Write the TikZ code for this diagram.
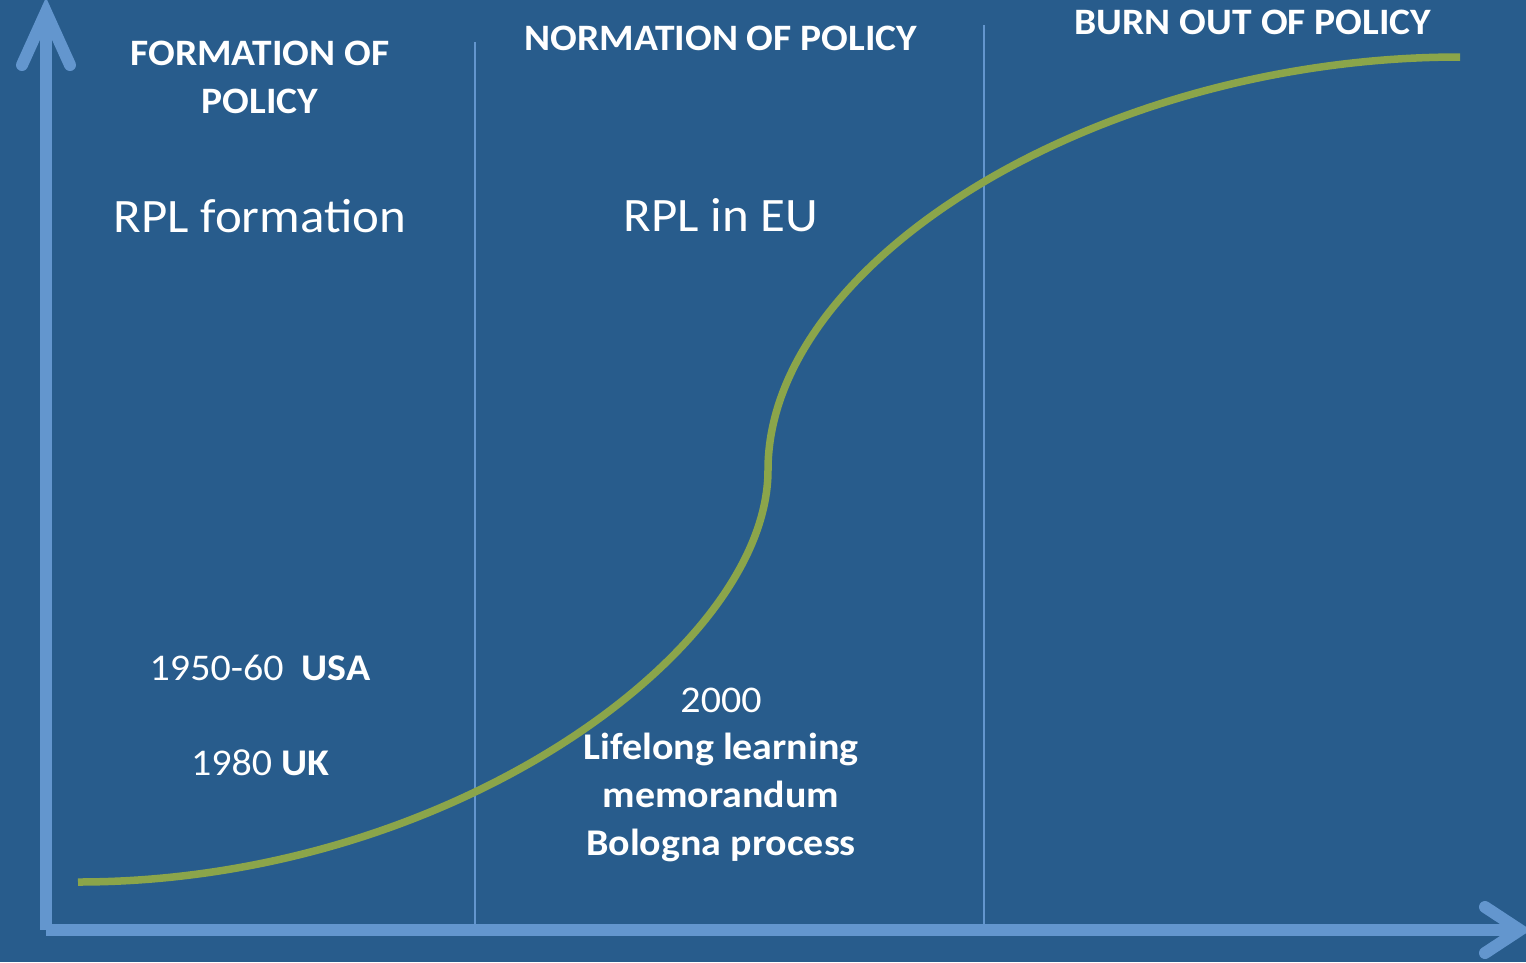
\documentclass[tikz,border=0pt]{standalone}
\usepackage{fontspec}
\setmainfont{Carlito}[FakeStretch=1.06]
\definecolor{bgblue}{RGB}{40,92,140}
\definecolor{axisblue}{RGB}{99,150,206}
\definecolor{curvegreen}{RGB}{139,165,74}
\tikzset{
  axisline/.style={draw=axisblue, line width=12pt},
  axishead/.style={draw=axisblue, line width=12pt, line cap=round, line join=miter},
  divider/.style={draw=axisblue, line width=1.6pt},
  phase/.style={text=white, font=\fontsize{37.3}{48}\selectfont\bfseries, align=center, anchor=base, inner sep=0pt},
  topic/.style={text=white, font=\fontsize{48}{58}\selectfont, anchor=base, inner sep=0pt},
  event/.style={text=white, font=\fontsize{37.7}{47.6}\selectfont, align=center, anchor=base, inner sep=0pt},
}
\begin{document}
\begin{tikzpicture}[x=1pt, y=-1pt]
  \fill[bgblue] (0,0) rectangle (1526,962);
  \useasboundingbox (0,0) rectangle (1526,962);

  % axes
  \coordinate (origin) at (46,930);
  \coordinate (ytip) at (46,14);
  \coordinate (xtip) at (1518,930);
  \draw[axisline] (origin) -- (ytip);
  \draw[axisline] (origin) -- (xtip);
  \draw[axishead] (22,65) -- (46,12) -- (70,65);
  \draw[axishead] (1485,907) -- (1520,930) -- (1485,953);

  % phase dividers
  \coordinate (d1top) at (475,42);
  \coordinate (d1bot) at (475,925);
  \coordinate (d2top) at (984,25);
  \coordinate (d2bot) at (984,925);
  \draw[divider] (d1top) -- (d1bot);
  \draw[divider] (d2top) -- (d2bot);

  % policy life-cycle curve
  \coordinate (cstart) at (78,882);
  \coordinate (cmid) at (768,470);
  \coordinate (cend) at (1460,57);
  \draw[curvegreen, line width=7.5pt]
    (cstart) .. controls (450,882) and (768,650) .. (cmid)
             .. controls (768,260) and (1100,57) .. (cend);

  % phase headings (multi-line nodes sit on their last baseline)
  \node[phase] (formation) at (260,113) {FORMATION OF\\POLICY};
  \node[phase] (normation) at (721,50) {NORMATION OF POLICY};
  \node[phase] (burnout) at (1253,34) {BURN OUT OF POLICY};

  % topics
  \node[topic] (rplform) at (260,232) {RPL formation};
  \node[topic] (rpleu) at (721,231) {RPL in EU};

  % events
  \node[event] (usa) at (260,680) {1950-60\ \ \textbf{USA}};
  \node[event] (uk) at (260,775) {1980 \textbf{UK}};
  \node[event] (eu2000) at (721,855) {2000\\\textbf{Lifelong learning}\\\textbf{memorandum}\\\textbf{Bologna process}};
\end{tikzpicture}
\end{document}
